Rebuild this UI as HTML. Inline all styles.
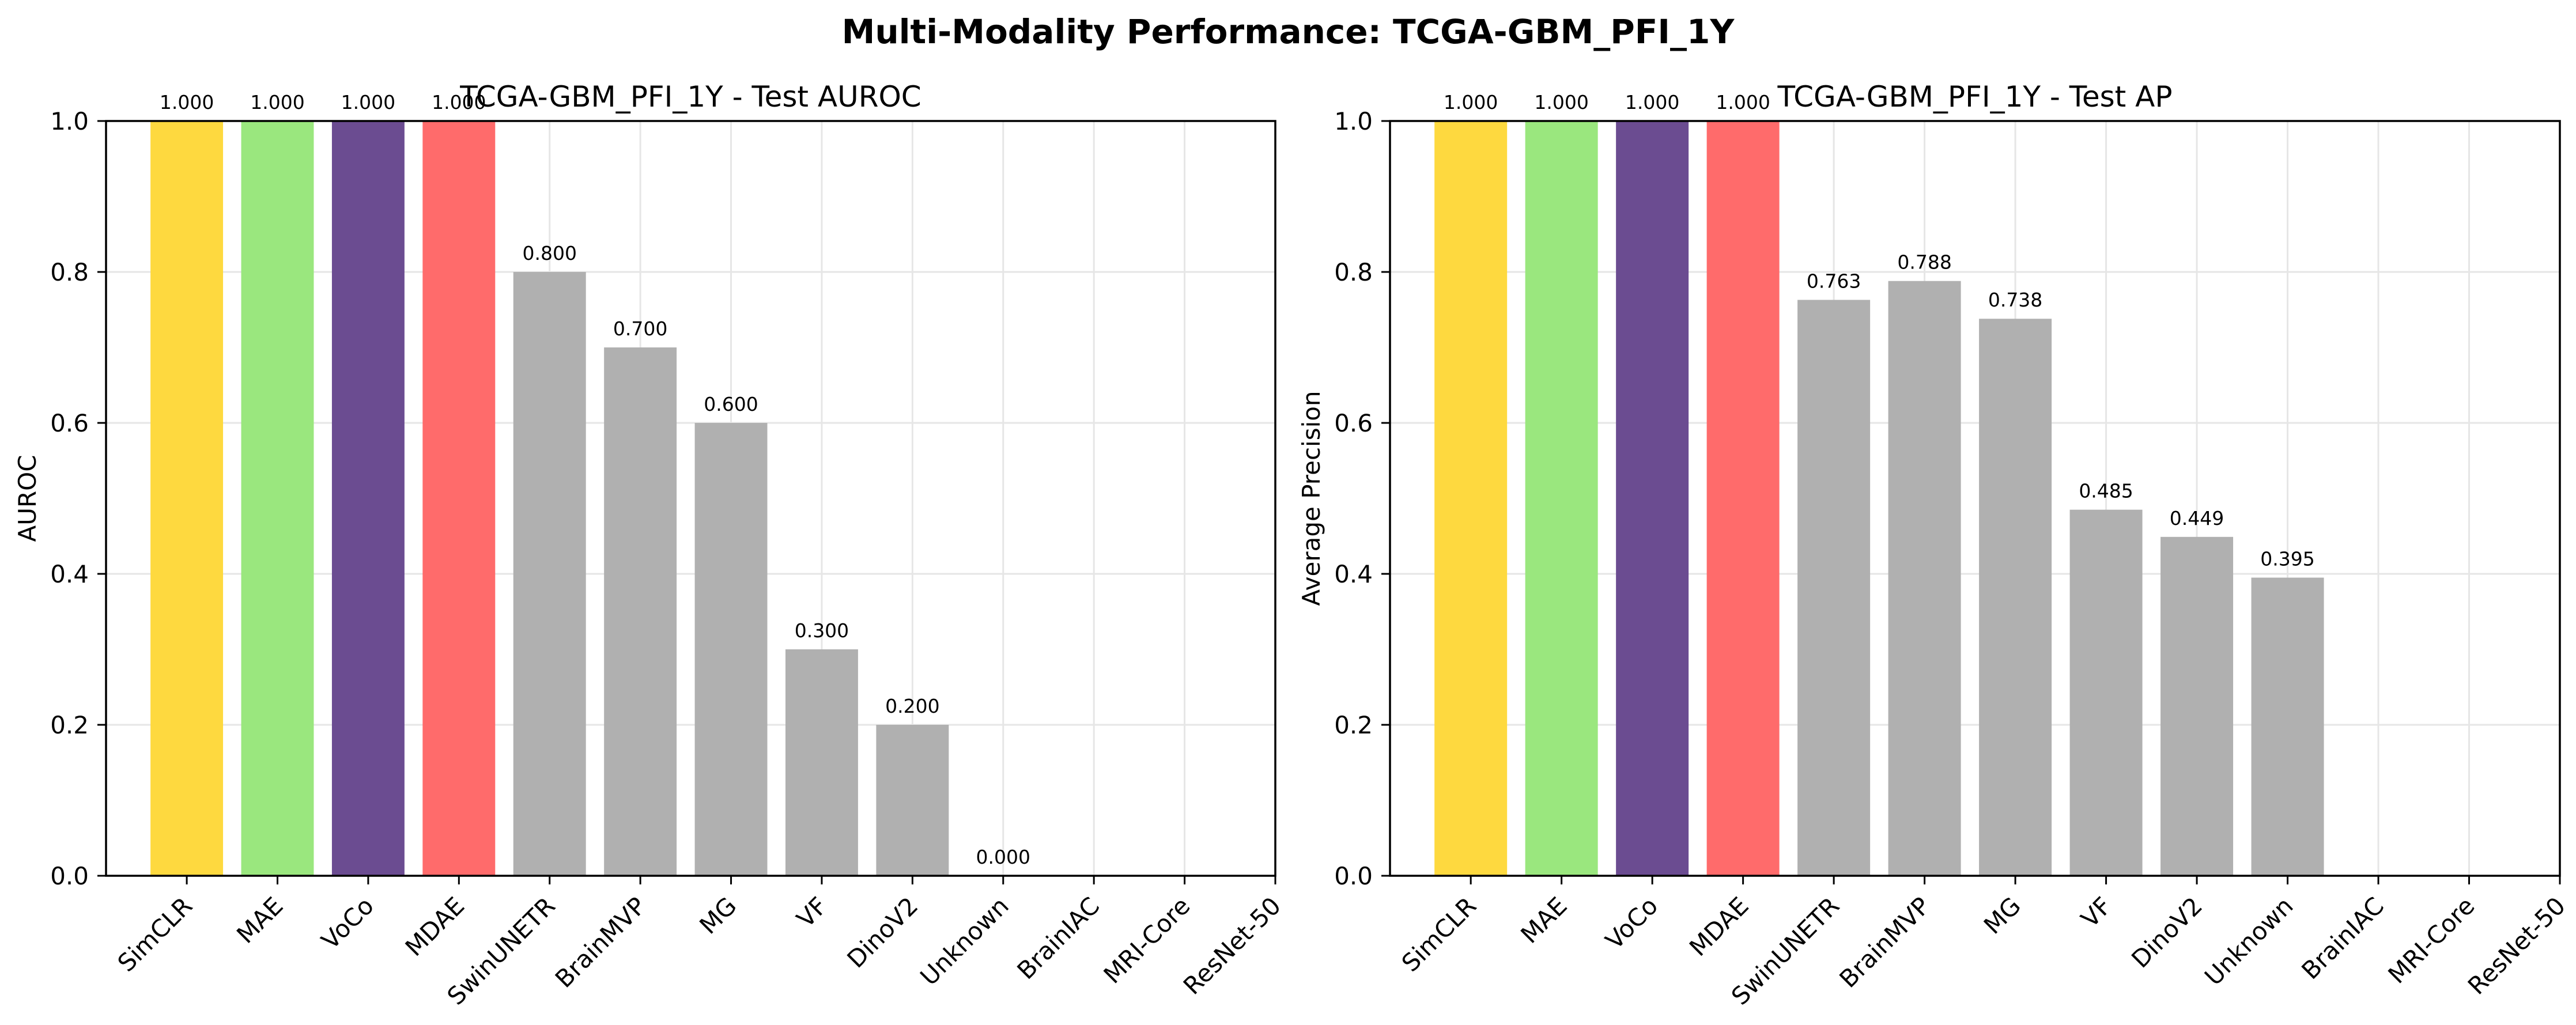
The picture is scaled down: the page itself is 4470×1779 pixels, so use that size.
<!DOCTYPE html>
<html><head><meta charset="utf-8"><style>
html,body{margin:0;padding:0;background:#fff;}
svg{display:block;font-family:"DejaVu Sans","Liberation Sans",sans-serif;}
</style></head><body>
<svg id="fig" width="4470" height="1779" viewBox="0 0 4470 1779" xmlns="http://www.w3.org/2000/svg">
<rect width="4470" height="1779" fill="#fff"/>
<text x="2235" y="75" text-anchor="middle" font-size="58" font-weight="bold">Multi-Modality Performance: TCGA-GBM_PFI_1Y</text>
</svg>
<script>
const categories = ["SimCLR","MAE","VoCo","MDAE","SwinUNETR","BrainMVP","MG","VF","DinoV2","Unknown","BrainIAC","MRI-Core","ResNet-50"];
const aurocValues = [1.000,1.000,1.000,1.000,0.800,0.700,0.600,0.300,0.200,0.000,null,null,null];
const apValues = [1.000,1.000,1.000,1.000,0.763,0.788,0.738,0.485,0.449,0.395,null,null,null];
const yTicks = [0.0,0.2,0.4,0.6,0.8,1.0];
const barColors = ["#fed93f","#9ae77e","#6b4c91","#ff6b6b","#b0b0b0","#b0b0b0","#b0b0b0","#b0b0b0","#b0b0b0","#b0b0b0","#b0b0b0","#b0b0b0","#b0b0b0"];

const NS="http://www.w3.org/2000/svg";
const svg=document.getElementById('fig');
function mk(tag,attrs,parent){const e=document.createElementNS(NS,tag);for(const k in attrs)e.setAttribute(k,attrs[k]);(parent||svg).appendChild(e);return e;}

function panel(x0,x1,values,title,ylabel,key){
  const y0=1520,y1=210;
  const xmin=-0.89,xmax=12;
  const xs=i=>x0+(i-xmin)/(xmax-xmin)*(x1-x0);
  const ys=v=>y0-(v-0)/(1-0)*(y0-y1);
  const bw=0.8*(x1-x0)/(xmax-xmin);
  const g=mk('g',{});
  
  
  yTicks.forEach(t=>{const l=mk('line',{x1:x0,x2:x1,y1:ys(t),y2:ys(t),stroke:'#e6e6e6','stroke-width':3},g);
    
    });
  categories.forEach((c,i)=>{const l=mk('line',{x1:xs(i),x2:xs(i),y1:y0,y2:y1,stroke:'#e6e6e6','stroke-width':3},g);
    
    });
  values.forEach((v,i)=>{
    if(v===null)return;
    const r=mk('rect',{x:xs(i)-bw/2,y:ys(v),width:bw,height:ys(0)-ys(v),fill:barColors[i]},g);
    
    
    const t=mk('text',{x:xs(i),y:ys(v)-21,'text-anchor':'middle','font-size':33},g);
    t.textContent=v.toFixed(3);
    
    
  });
  const sp=mk('rect',{x:x0,y:y1,width:x1-x0,height:y0-y1,fill:'none',stroke:'#000','stroke-width':3.5},g);
  
  
  yTicks.forEach(t=>{
    mk('line',{x1:x0-15,x2:x0,y1:ys(t),y2:ys(t),stroke:'#000','stroke-width':3},g);
    const tx=mk('text',{x:x0-30,y:ys(t)+15,'text-anchor':'end','font-size':42},g);
    tx.textContent=t.toFixed(1);
    
    
  });
  categories.forEach((c,i)=>{
    mk('line',{x1:xs(i),x2:xs(i),y1:y0,y2:y0+15,stroke:'#000','stroke-width':3},g);
    const px=xs(i)+12,py=y0+55;
    const tx=mk('text',{x:px,y:py,'text-anchor':'end','font-size':42,transform:`rotate(-45 ${px} ${py})`},g);
    tx.textContent=c;
    
    
  });
  const tt=mk('text',{x:(x0+x1)/2,y:185,'text-anchor':'middle','font-size':50},g);
  tt.textContent=title;
  
  
  const yl=mk('text',{x:x0-122,y:(y0+y1)/2,'text-anchor':'middle','font-size':42,transform:`rotate(-90 ${x0-122} ${(y0+y1)/2})`},g);
  yl.textContent=ylabel;
  
  
}
panel(184,2213,aurocValues,"TCGA-GBM_PFI_1Y - Test AUROC","AUROC","auroc");
panel(2412,4442,apValues,"TCGA-GBM_PFI_1Y - Test AP","Average Precision","ap");
</script>
</body></html>
